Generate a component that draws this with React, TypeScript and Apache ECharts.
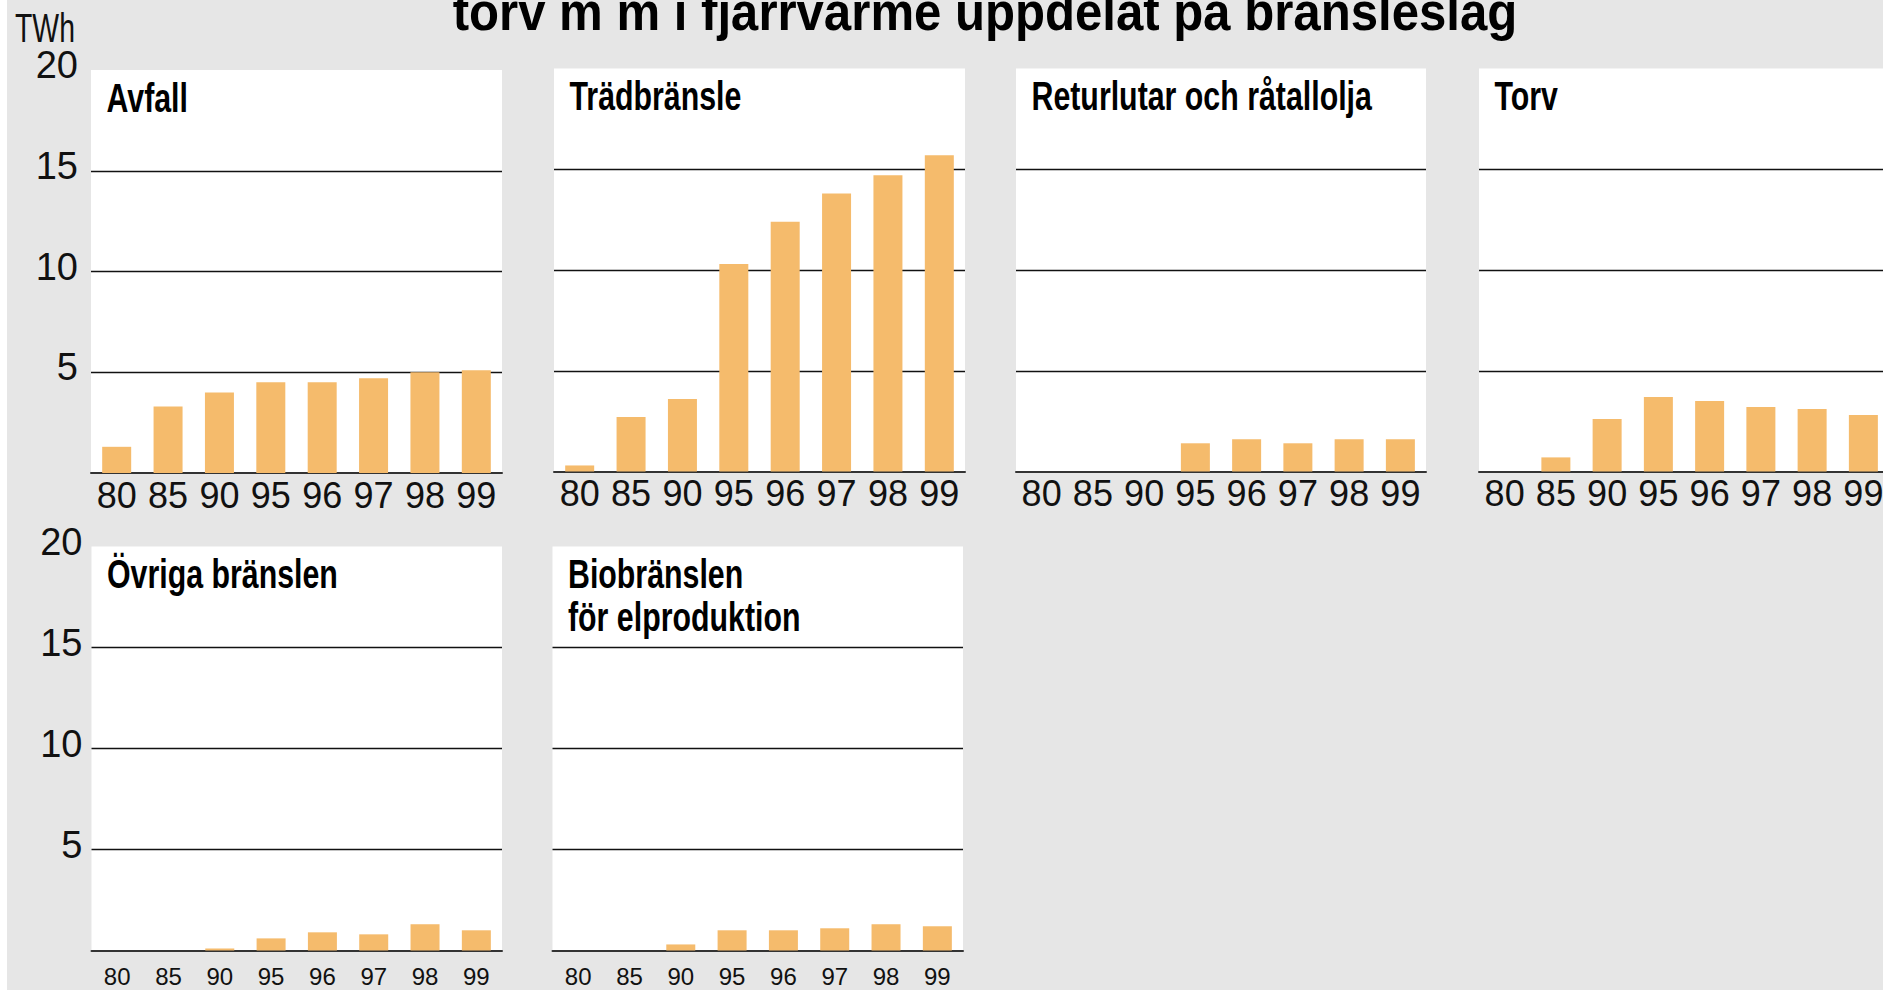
import React, { useEffect, useRef } from 'react';
import * as echarts from 'echarts';

// ---- data ----
const years = ['80', '85', '90', '95', '96', '97', '98', '99'];
const yMin = 0;
const yMax = 20;
const yStep = 5;

const mainTitle = 'torv m m i fjärrvärme uppdelat på bränsleslag';
const unitLabel = 'TWh';

const panelTitles: string[][] = [
  ['Avfall'],
  ['Trädbränsle'],
  ['Returlutar och råtallolja'],
  ['Torv'],
  ['Övriga bränslen'],
  ['Biobränslen', 'för elproduktion'],
];

const avfall = [1.3, 3.3, 4.0, 4.5, 4.5, 4.7, 5.0, 5.1];
const tradbransle = [0.3, 2.7, 3.6, 10.3, 12.4, 13.8, 14.7, 15.7];
const returlutar = [0, 0, 0, 1.4, 1.6, 1.4, 1.6, 1.6];
const torv = [0, 0.7, 2.6, 3.7, 3.5, 3.2, 3.1, 2.8];
const ovriga = [0, 0, 0.1, 0.6, 0.9, 0.8, 1.3, 1.0];
const biobransle = [0, 0, 0.3, 1.0, 1.0, 1.1, 1.3, 1.2];

const seriesData = [avfall, tradbransle, returlutar, torv, ovriga, biobransle];

// ---- layout / style ----
const W = 1883;
const H = 990;
const BG = '#e6e6e6';
const BAR = '#f5bb6c';
const INK = '#111111';
const NUM_FONT = "'Liberation Sans Narrow', 'Liberation Sans', Arial, sans-serif";
const BOLD_FONT = "'Liberation Sans', Arial, sans-serif";

const panels = [
  { left: 91, top: 70, width: 411, height: 403, row: 0, yLabels: true },
  { left: 554, top: 68.5, width: 411, height: 403, row: 0, yLabels: false },
  { left: 1016, top: 68.5, width: 410, height: 403, row: 0, yLabels: false },
  { left: 1479, top: 68.5, width: 410, height: 403, row: 0, yLabels: false },
  { left: 91.5, top: 546.5, width: 410.5, height: 404, row: 1, yLabels: true },
  { left: 552.5, top: 546.5, width: 410.5, height: 404, row: 1, yLabels: false },
];

function buildOption() {
  const grid = panels.map((p) => ({
    left: p.left,
    top: p.top,
    width: p.width,
    height: p.height,
    show: true,
    backgroundColor: '#ffffff',
    borderWidth: 0,
    containLabel: false,
    outerBoundsMode: 'none',
  }));

  const xAxis = panels.map((p, i) => ({
    type: 'category',
    gridIndex: i,
    data: years,
    axisTick: { show: false },
    axisLine: { show: true, lineStyle: { color: '#333333', width: 2 } },
    axisLabel: {
      color: INK,
      fontFamily: NUM_FONT,
      fontSize: p.row === 0 ? 36 : 24,
      margin: p.row === 0 ? 4 : 14,
      interval: 0,
    },
    splitLine: { show: false },
  }));

  const yAxis = panels.map((p, i) => ({
    type: 'value',
    gridIndex: i,
    min: yMin,
    max: yMax,
    interval: yStep,
    axisLine: { show: false },
    axisTick: { show: false },
    axisLabel: {
      show: p.yLabels,
      showMinLabel: false,
      color: INK,
      fontFamily: NUM_FONT,
      fontSize: 38,
      margin: p.row === 0 ? 13 : 9,
      verticalAlign: 'bottom',
      lineHeight: 10,
    },
    splitLine: {
      show: true,
      showMinLine: false,
      showMaxLine: false,
      lineStyle: { color: INK, width: 1.4 },
    },
  }));

  const series = seriesData.map((d, i) => ({
    type: 'bar',
    name: panelTitles[i].join(' '),
    xAxisIndex: i,
    yAxisIndex: i,
    data: d,
    barWidth: 29,
    itemStyle: { color: BAR },
    silent: true,
  }));

  const graphic: any[] = [
    { type: 'rect', z: 100, shape: { x: 0, y: 0, width: 7, height: H }, style: { fill: '#ffffff' } },
    {
      type: 'text',
      x: 985,
      y: 30 - 0.3465 * 54,
      scaleX: 0.91,
      style: {
        text: mainTitle,
        x: 0,
        y: 0,
        fill: '#000',
        fontSize: 54,
        fontWeight: 'bold',
        fontFamily: BOLD_FONT,
        textAlign: 'center',
        textVerticalAlign: 'middle',
      },
    },
    {
      type: 'text',
      x: 15,
      y: 42 - 0.3465 * 40,
      scaleX: 0.71,
      style: {
        text: unitLabel,
        x: 0,
        y: 0,
        fill: INK,
        fontSize: 40,
        fontFamily: NUM_FONT,
        textAlign: 'left',
        textVerticalAlign: 'middle',
      },
    },
  ];

  panels.forEach((p, i) => {
    panelTitles[i].forEach((line, k) => {
      const baseline = p.top + 41.5 + k * 43.4;
      graphic.push({
        type: 'text',
        x: p.left + 15.5,
        y: baseline - 0.3465 * 41,
        scaleX: 0.74,
        style: {
          text: line,
          x: 0,
          y: 0,
          fill: '#000',
          fontSize: 41,
          fontWeight: 'bold',
          fontFamily: BOLD_FONT,
          textAlign: 'left',
          textVerticalAlign: 'middle',
        },
      });
    });
  });

  return {
    animation: false,
    backgroundColor: BG,
    grid,
    xAxis,
    yAxis,
    series,
    graphic,
  };
}

export default function App() {
  const ref = useRef<HTMLDivElement>(null);
  useEffect(() => {
    if (!ref.current) return;
    const chart = echarts.init(ref.current, undefined, { renderer: 'svg' });
    chart.setOption(buildOption() as any);
    return () => chart.dispose();
  }, []);
  return (
    <div
      ref={ref}
      style={{ position: 'absolute', left: 0, top: 0, width: W, height: H }}
    />
  );
}
